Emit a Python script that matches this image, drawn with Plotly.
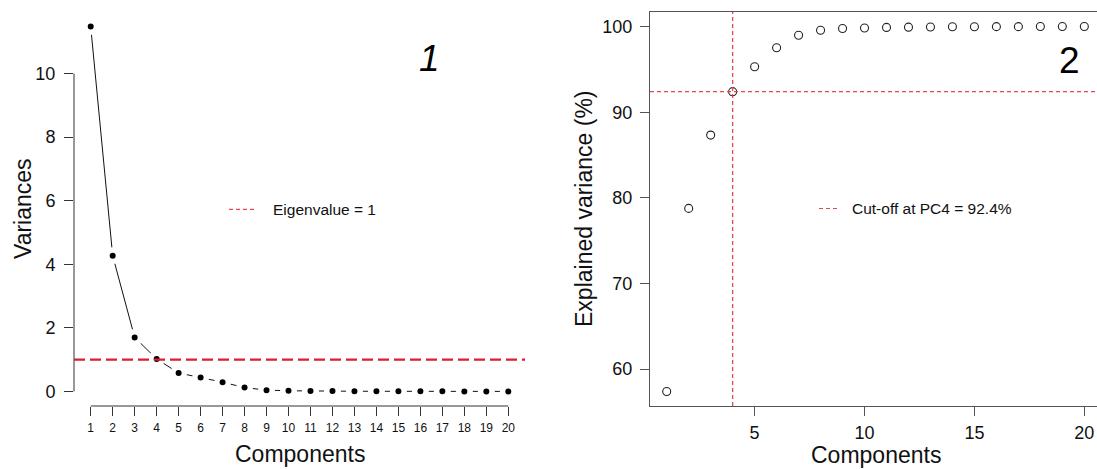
import plotly.graph_objects as go

# ---- data ----
components = list(range(1, 21))
variances = [11.48, 4.27, 1.70, 1.02, 0.58, 0.44, 0.29, 0.12, 0.04, 0.02,
             0.01, 0.01, 0.005, 0.004, 0.003, 0.002, 0.002, 0.001, 0.001, 0.0]
cum_explained = [57.4, 78.77, 87.33, 92.4, 95.31, 97.52, 98.99, 99.57, 99.77, 99.84,
                 99.90, 99.93, 99.95, 99.97, 99.98, 99.99, 99.99, 100.0, 100.0, 100.0]
eigen_cutoff = 1
cutoff_pc = 4
left_xticks = list(range(1, 21))
left_yticks = [0, 2, 4, 6, 8, 10]
right_xticks = [5, 10, 15, 20]
right_yticks = [60, 70, 80, 90, 100]
legend_left = "Eigenvalue = 1"
legend_right = "Cut-off at PC4 = 92.4%"

W, H = 1097, 469
FONT = "Liberation Sans, Arial, sans-serif"
AX = "#333333"
RED_THICK = "#D8202E"
RED_THIN = "#E8474D"


def px(x):
    return x / W


def py(y):
    return 1 - y / H


fig = go.Figure()

# left panel: scree line with gaps at the points (white halo markers)
fig.add_trace(go.Scatter(
    x=components, y=variances, mode="lines", xaxis="x", yaxis="y",
    line=dict(color="#111111", width=1), showlegend=False, hoverinfo="skip"))
fig.add_trace(go.Scatter(
    x=components, y=variances, mode="markers", xaxis="x", yaxis="y",
    marker=dict(size=11.5, color="#000000", line=dict(color="white", width=5.5)),
    showlegend=False))

# right panel: cumulative explained variance, open circles
fig.add_trace(go.Scatter(
    x=components, y=cum_explained, mode="markers", xaxis="x2", yaxis="y2",
    marker=dict(size=8, symbol="circle-open", color="#222222", line=dict(width=1.1)),
    showlegend=False))

ydom = [py(406), py(12)]
tickfont = dict(family=FONT, size=18, color="#111111")

fig.update_layout(
    width=W, height=H,
    margin=dict(l=0, r=0, t=0, b=0),
    paper_bgcolor="white", plot_bgcolor="white",
    font=dict(family=FONT, color="#111111"),
    xaxis=dict(domain=[px(74), px(525)], range=[0.24, 20.76], showgrid=False, zeroline=False,
               showline=False, tickmode="array", tickvals=left_xticks,
               ticktext=[str(t) for t in left_xticks], ticks="outside", ticklen=9,
               tickcolor=AX, tickwidth=1, tickfont=dict(family=FONT, size=12, color="#111111"),
               ticklabelstandoff=2, anchor="y", automargin=False),
    yaxis=dict(domain=ydom, range=[-0.4592, 11.9392], showgrid=False, zeroline=False,
               showline=False, tickmode="array", tickvals=left_yticks, ticks="outside",
               ticklen=9, tickcolor=AX, tickwidth=1, tickfont=tickfont,
               ticklabelstandoff=5, anchor="x", automargin=False),
    xaxis2=dict(domain=[px(650), 1.0], range=[0.24, 0.24 + 447 / 21.98], showgrid=False,
                zeroline=False, showline=True, linecolor="#555555", linewidth=1.2,
                mirror=True, tickmode="array", tickvals=right_xticks, ticks="outside",
                ticklen=9, tickcolor="#555555", tickfont=tickfont, ticklabelstandoff=1,
                anchor="y2", automargin=False),
    yaxis2=dict(domain=ydom, range=[55.7, 101.7], showgrid=False, zeroline=False,
                showline=True, linecolor="#555555", linewidth=1.2, tickmode="array",
                tickvals=right_yticks, ticks="outside", ticklen=9, tickcolor="#555555",
                tickfont=tickfont, ticklabelstandoff=4, anchor="x2", automargin=False),
)

shapes = []
# R-style axis lines for the left panel (span first to last tick)
shapes.append(dict(type="line", xref="x domain", yref="y", x0=0, x1=0,
                   y0=left_yticks[0], y1=left_yticks[-1], line=dict(color=AX, width=1)))
shapes.append(dict(type="line", xref="x", yref="y domain", x0=left_xticks[0],
                   x1=left_xticks[-1], y0=0, y1=0, line=dict(color=AX, width=1)))
# reference lines
shapes.append(dict(type="line", xref="x domain", yref="y", x0=0, x1=1,
                   y0=eigen_cutoff, y1=eigen_cutoff, layer="above",
                   line=dict(color=RED_THICK, width=2.2, dash="11px,5px")))
shapes.append(dict(type="line", xref="x2", yref="y2 domain", x0=cutoff_pc, x1=cutoff_pc,
                   y0=0, y1=1, layer="above",
                   line=dict(color=RED_THIN, width=1.3, dash="4px,3px")))
shapes.append(dict(type="line", xref="x2 domain", yref="y2", x0=0, x1=1,
                   y0=cum_explained[cutoff_pc - 1], y1=cum_explained[cutoff_pc - 1],
                   layer="above", line=dict(color=RED_THIN, width=1.3, dash="4px,3px")))
# legend samples
shapes.append(dict(type="line", xref="paper", yref="paper", x0=px(229), x1=px(257),
                   y0=py(209.3), y1=py(209.3),
                   line=dict(color=RED_THIN, width=1.2, dash="4px,3px")))
shapes.append(dict(type="line", xref="paper", yref="paper", x0=px(819), x1=px(840),
                   y0=py(208.5), y1=py(208.5),
                   line=dict(color=RED_THIN, width=1.2, dash="4px,3px")))
fig.update_layout(shapes=shapes)

ann = []
ann.append(dict(text="Variances", x=px(23), y=py(209), textangle=-90,
                font=dict(family=FONT, size=23, color="#111111")))
ann.append(dict(text="Components", x=px(299.5), y=py(454),
                font=dict(family=FONT, size=23, color="#111111")))
ann.append(dict(text="Explained variance (%)", x=px(584), y=py(209), textangle=-90,
                font=dict(family=FONT, size=23, color="#111111")))
ann.append(dict(text="Components", x=px(875.5), y=py(455),
                font=dict(family=FONT, size=23, color="#111111")))
ann.append(dict(text="<i>1</i>", x=px(429), y=py(58),
                font=dict(family=FONT, size=37, color="#000000")))
ann.append(dict(text="2", x=px(1069), y=py(60),
                font=dict(family=FONT, size=37, color="#000000")))
ann.append(dict(text=legend_left, x=px(271), y=py(209.3), xanchor="left",
                font=dict(family=FONT, size=15.5, color="#111111")))
ann.append(dict(text=legend_right, x=px(850), y=py(208.5), xanchor="left",
                font=dict(family=FONT, size=15.5, color="#111111")))
for a in ann:
    a.update(xref="paper", yref="paper", showarrow=False)
    a.setdefault("xanchor", "center")
    a["yanchor"] = "middle"
fig.update_layout(annotations=ann)

fig.write_html(
    "out.html",
    config={"displayModeBar": False},
    post_script="document.body.style.margin='0';document.body.style.padding='0';"
                "document.body.style.overflow='hidden';",
)
